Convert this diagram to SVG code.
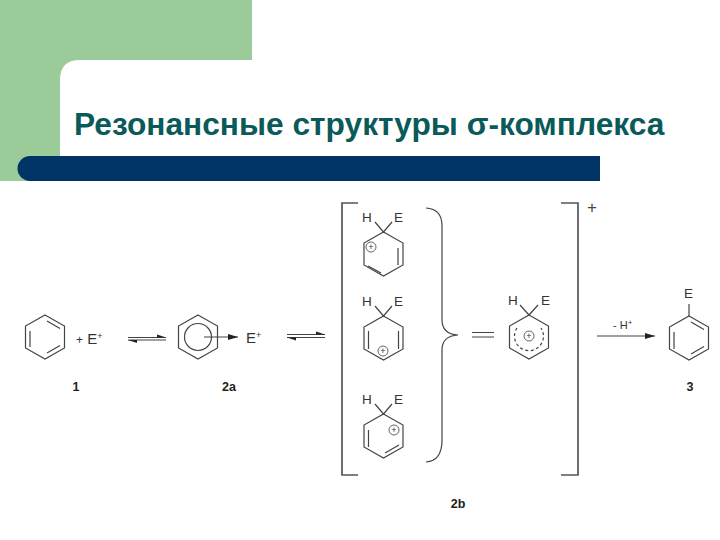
<svg xmlns="http://www.w3.org/2000/svg" width="720" height="540" viewBox="0 0 720 540">
<style>
.b{fill:none;stroke:#444;stroke-width:1.2}
.br{fill:none;stroke:#555;stroke-width:1.7}
.t{font-family:"Liberation Sans",Arial,sans-serif;font-size:13.500px;fill:#333}
.e{font-family:"Liberation Sans",Arial,sans-serif;font-size:15px;fill:#333}
.n{font-family:"Liberation Sans",Arial,sans-serif;font-size:12.500px;font-weight:bold;fill:#222;text-anchor:middle}
.s{font-size:9px}
.c{fill:none;stroke:#555;stroke-width:.9}
.p{font-family:"Liberation Sans",Arial,sans-serif;font-size:9px;fill:#333;text-anchor:middle}
</style>
<defs>
<marker id="a" viewBox="0 0 10 6" refX="10" refY="3" markerWidth="10" markerHeight="6" markerUnits="userSpaceOnUse" orient="auto"><path d="M0 0L10 3L0 6Z" fill="#222"/></marker>
<marker id="h" viewBox="0 0 10 6" refX="10" refY="4" markerWidth="10" markerHeight="6" markerUnits="userSpaceOnUse" orient="auto"><path d="M1 1L10 4H1Z" fill="#222"/></marker>
<path id="hex" d="M0 0L19.500 11V33L0 44L-19.500 33V11Z" class="b"/>
</defs>
<g id="background">
<path d="M0 0H252V60H80Q60 60 60 80V181H0Z" fill="#9ccb9a"/>
<path d="M30 156H600V181H30A12.500 12.500 0 0 1 30 156Z" fill="#003366"/>
</g>
<g id="title"><text x="74" y="135" font-family="'Liberation Sans',Arial,sans-serif" font-size="31.700px" font-weight="bold" fill="#0b5a5a">Резонансные структуры σ-комплекса</text></g>
<g id="connectors">
<path d="M128 337.500H166" class="b" marker-end="url(#h)"/><path d="M166 340H128" class="b" marker-end="url(#h)"/>
<path d="M287 334.500H325" class="b" marker-end="url(#h)"/><path d="M325 337.500H287" class="b" marker-end="url(#h)"/>
<path d="M204 337H238" class="b" marker-end="url(#a)"/>
<path d="M597 336H655" class="b" marker-end="url(#a)"/>
<path d="M472 332.500H494M472 337H494" class="b"/>
</g>
<g id="brackets">
<path d="M358 203H342V475H358" class="br"/>
<path d="M561 203H578V475H561" class="br"/>
<path d="M426 208Q442 209 442 226V320Q442 334 458 335Q442 336 442 350V440Q442 461 426 462" class="b"/>
<text x="592" y="213" font-family="'Liberation Sans',Arial,sans-serif" font-size="17px" fill="#444" text-anchor="middle">+</text>
</g>
<g id="node-1">
<use href="#hex" x="45" y="315"/>
<path d="M30 331V347M47 321L60 328.500M47 353L60 345.500" class="b"/>
<text x="76" y="344" class="e"><tspan font-size="12">+</tspan> E<tspan class="s" dy="-5">+</tspan></text>
<text x="76" y="391" class="n">1</text>
</g>
<g id="node-2a">
<use href="#hex" x="198" y="315"/>
<circle cx="198" cy="337" r="13.500" class="b"/>
<text x="246" y="343" class="e">E<tspan class="s" dy="-5">+</tspan></text>
<text x="229" y="391" class="n">2a</text>
</g>
<g id="node-2b-1">
<use href="#hex" x="383.500" y="232"/>
<path d="M398 248V265M368 266L381 273" class="b"/>
<path d="M375 222L383.500 232L392 222" class="b"/>
<text x="362" y="222" class="t">H</text><text x="394" y="222" class="t">E</text>
<circle cx="371" cy="247" r="5" class="c"/><text x="371" y="250" class="p">+</text>
</g>
<g id="node-2b-2">
<use href="#hex" x="383.500" y="316"/>
<path d="M368.500 331V349M398.500 331V349" class="b"/>
<path d="M375 306L383.500 316L392 306" class="b"/>
<text x="362" y="306" class="t">H</text><text x="394" y="306" class="t">E</text>
<circle cx="383" cy="351" r="5" class="c"/><text x="383" y="354" class="p">+</text>
</g>
<g id="node-2b-3">
<use href="#hex" x="383.500" y="414"/>
<path d="M368.500 430V447M385 453L399 445" class="b"/>
<path d="M375 404L383.500 414L392 404" class="b"/>
<text x="362" y="404" class="t">H</text><text x="394" y="404" class="t">E</text>
<circle cx="394" cy="430" r="5" class="c"/><text x="394" y="433" class="p">+</text>
</g>
<g id="node-2b-label"><text x="458" y="508" class="n">2b</text></g>
<g id="node-hybrid">
<use href="#hex" x="529" y="315"/>
<path d="M517 328A14.500 14.500 0 1 0 541 328" class="b" stroke-dasharray="3 2.500"/>
<path d="M520 305L529 315L538 305" class="b"/>
<text x="508" y="305" class="t">H</text><text x="541" y="305" class="t">E</text>
<circle cx="529" cy="336" r="5" class="c"/><text x="529" y="339" class="p">+</text>
</g>
<g id="node-minus-h"><text x="613" y="329" font-family="'Liberation Sans',Arial,sans-serif" font-size="11px" fill="#333">- H<tspan font-size="8" dy="-4">+</tspan></text></g>
<g id="node-3">
<use href="#hex" x="689" y="316"/>
<path d="M689 316V304" class="b"/>
<path d="M674 332V349M691 322L704 329.500M691 354L704 346.500" class="b"/>
<text x="684" y="298" class="t">E</text>
<text x="690" y="391" class="n">3</text>
</g>
</svg>
